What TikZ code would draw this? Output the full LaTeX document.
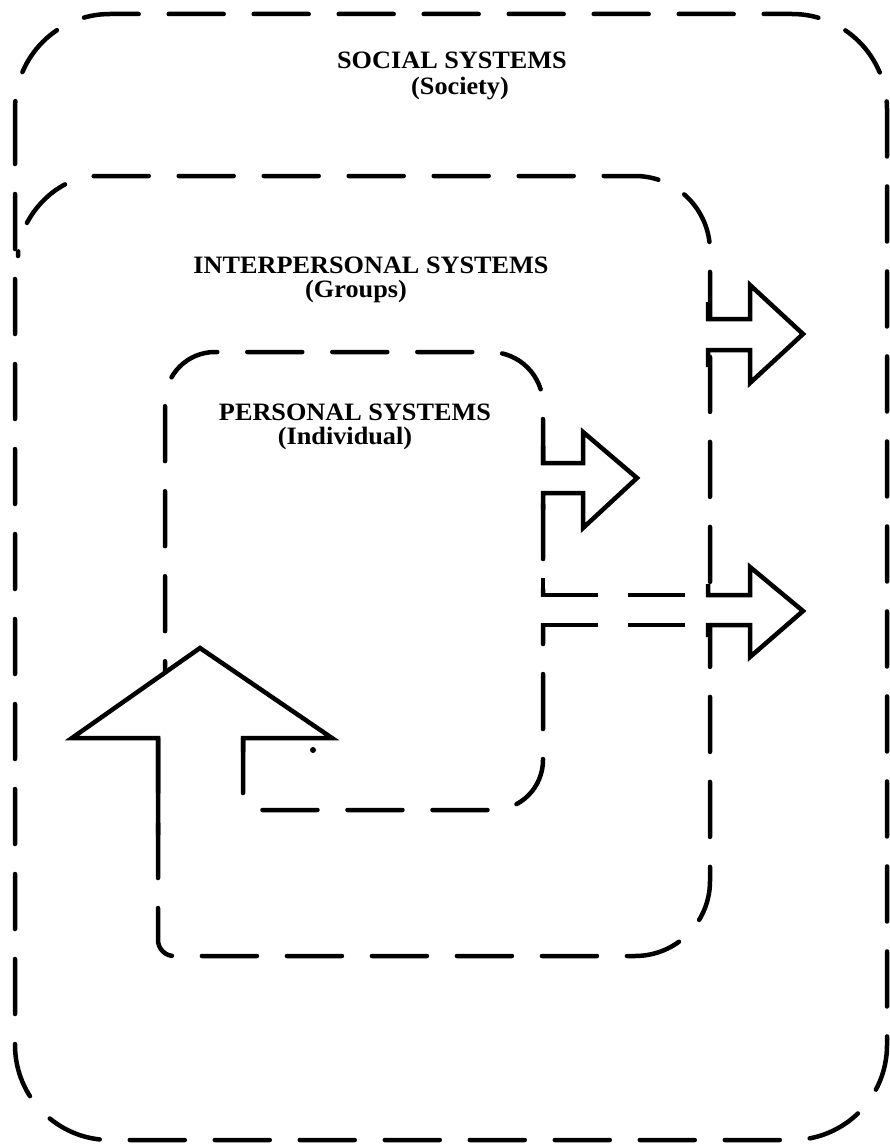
\documentclass[tikz,border=0pt]{standalone}
\usepackage{fontspec}
\newfontfamily\lblfont[FakeStretch=1.05]{Liberation Serif Bold}
\begin{document}
\begin{tikzpicture}[x=1pt,y=-1pt,
  boxline/.style={line width=4.5pt, dash pattern=on 55pt off 30pt, line cap=round},
  arrowline/.style={line width=4.5pt, line join=miter, line cap=butt},
  eraser/.style={fill=white, draw=none},
  lbl/.style={font=\lblfont\fontsize{25}{25}\selectfont, inner sep=0pt, anchor=base}]
\useasboundingbox (0,0) rectangle (889,1145);

% ---- boxes ----
% social systems
\draw[boxline, rounded corners=95pt] (15,14) rectangle (887,1140);
% interpersonal systems
\draw[boxline] (158,738) -- (158,940)
  .. controls (158,948.8) and (165.2,956) .. (174,956)
  -- (635,956)
  .. controls (676.4,956) and (710,922.4) .. (710,881)
  -- (710,251)
  .. controls (710,209.6) and (676.4,176) .. (635,176)
  -- (98,176)
  .. controls (53.8,176) and (18,220.2) .. (18,256);
% personal systems
\draw[boxline] (243,738) -- (243,795)
  .. controls (243,803.3) and (249.7,810) .. (258,810)
  -- (493,810)
  .. controls (520.6,810) and (543,787.6) .. (543,760)
  -- (543,405)
  .. controls (543,375.7) and (519.3,352) .. (490,352)
  -- (215,352)
  .. controls (187.4,352) and (165,374.4) .. (165,402)
  -- (165,738);

% ---- erase under arrows ----
\fill[eraser] (538,465) -- (585,465) -- (585,436) -- (633,478) -- (585,524) -- (585,491) -- (538,491) -- cycle;
\fill[eraser] (703,321) -- (752,321) -- (752,290) -- (799,334) -- (752,378) -- (752,348) -- (703,348) -- cycle;
\fill[eraser] (538,597) -- (752,597) -- (752,572) -- (799,611) -- (752,652) -- (752,623) -- (538,623) -- cycle;
\fill[eraser] (78,736) -- (200,651) -- (326,736) -- cycle;

% ---- arrows ----
% personal -> interpersonal
\draw[arrowline] (543,446) -- (543,463) -- (583,463) -- (583,432) -- (637,478)
  -- (583,528) -- (583,493) -- (543,493) -- (543,510);
% interpersonal -> social
\draw[arrowline] (708,302) -- (708,319) -- (750,319) -- (750,285) -- (803,334)
  -- (750,383) -- (750,350) -- (708,350) -- (708,367);
% personal -> social (dashed shaft)
\draw[arrowline] (543,578) -- (543,595) -- (598,595);
\draw[arrowline] (628,595) -- (685,595);
\draw[arrowline] (708,584) -- (708,595) -- (750,595) -- (750,567) -- (803,611)
  -- (750,657) -- (750,625) -- (708,625) -- (708,637);
\draw[arrowline] (543,638) -- (543,625) -- (598,625);
\draw[arrowline] (628,625) -- (685,625);
% society -> individual (upward arrow)
\draw[arrowline] (158,835) -- (158,738) -- (72,738) -- (200,648) -- (332,738)
  -- (243,738) -- (243,752);
\fill (313,750) circle (3pt);

% ---- labels ----
\node[lbl] (soc1) at (452,69) {SOCIAL SYSTEMS};
\node[lbl] (soc2) at (460,95) {(Society)};
\node[lbl] (inter1) at (371,273) {INTERPERSONAL SYSTEMS};
\node[lbl] (inter2) at (356,297) {(Groups)};
\node[lbl] (pers1) at (355,420) {PERSONAL SYSTEMS};
\node[lbl] (pers2) at (345,444) {(Individual)};
\end{tikzpicture}
\end{document}
